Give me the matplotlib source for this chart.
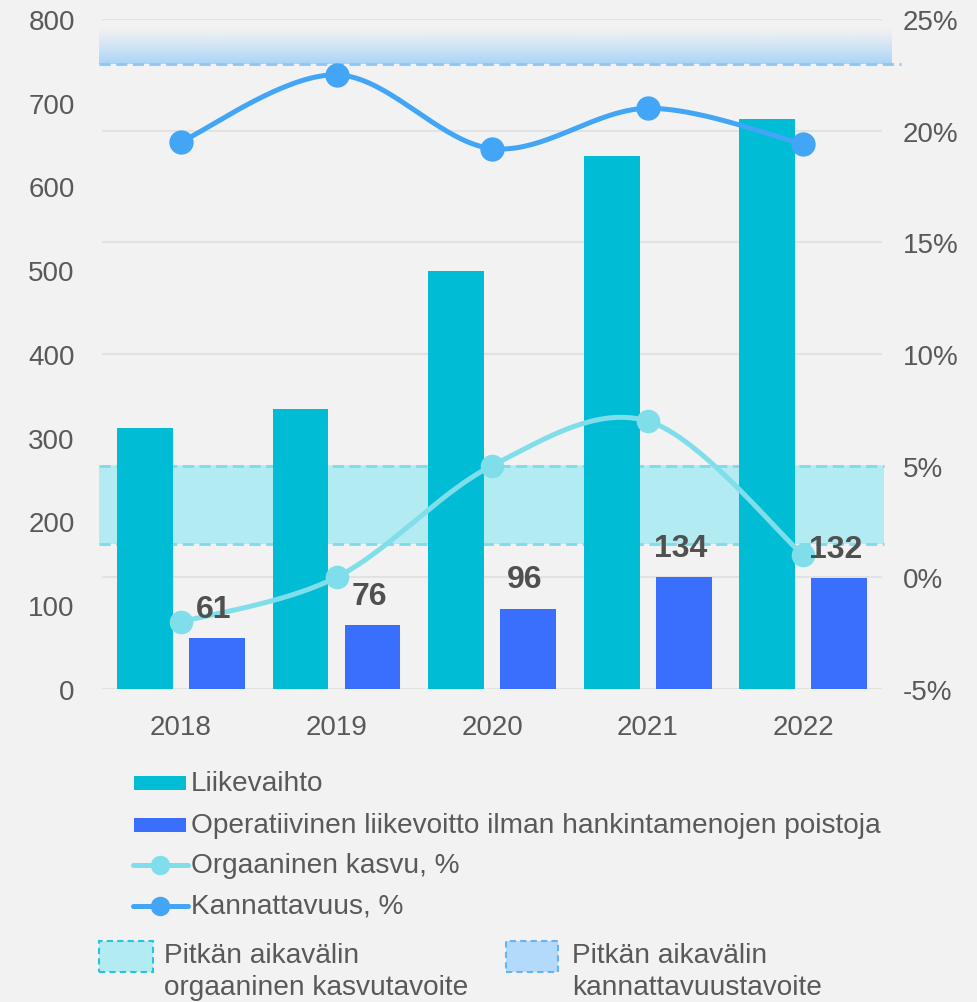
import matplotlib.pyplot as plt
import numpy as np
from matplotlib.patches import Rectangle
from matplotlib.lines import Line2D

plt.rcParams['font.family'] = ['Liberation Sans', 'DejaVu Sans']

years = ['2018', '2019', '2020', '2021', '2022']
liikevaihto = [312, 334, 499, 636, 681]
liikevoitto = [61, 76, 96, 134, 132]
kasvu = [-2.0, 0.0, 5.0, 7.0, 1.0]          # Orgaaninen kasvu, %
kannattavuus = [19.5, 22.5, 19.2, 21.0, 19.4]  # Kannattavuus, %
kasvu_target = [1.5, 5.0]
kann_target = 23.0

left_ticks = list(range(0, 801, 100))
pct_ticks = [-5, 0, 5, 10, 15, 20, 25]

bg = '#f2f2f2'
txt = '#595959'
c_teal = '#00bcd4'
c_blue = '#3a6ffd'
c_kasvu = '#80deea'
c_kann = '#42a5f5'


def to_left(p):
    return (np.asarray(p) + 5) * 800 / 30.0


def to_pct(v):
    return np.asarray(v) * 30 / 800.0 - 5


def smooth(xs, ys, n=40):
    # catmull-rom through the points (like excel smoothed lines)
    xs = np.asarray(xs, float)
    ys = np.asarray(ys, float)
    px = np.concatenate([[xs[0]], xs, [xs[-1]]])
    py = np.concatenate([[ys[0]], ys, [ys[-1]]])
    ox, oy = [], []
    for i in range(1, len(px) - 2):
        t = np.linspace(0, 1, n)
        for arr, out in ((px, ox), (py, oy)):
            p0, p1, p2, p3 = arr[i - 1], arr[i], arr[i + 1], arr[i + 2]
            out.extend(0.5 * ((2 * p1) + (-p0 + p2) * t +
                              (2 * p0 - 5 * p1 + 4 * p2 - p3) * t ** 2 +
                              (-p0 + 3 * p1 - 3 * p2 + p3) * t ** 3))
    return np.array(ox), np.array(oy)


W, H = 977, 1003
fig = plt.figure(figsize=(W / 100, H / 100), dpi=100, facecolor=bg)
ax = fig.add_axes([97 / W, 1 - 690 / H, (883 - 97) / W, (690 - 20) / H])
ax.set_facecolor(bg)

x = np.arange(len(years))
bw = 0.36
off = 0.2315

# grid lines follow the percentage axis
for p in pct_ticks:
    ax.plot([-0.502, 4.502], [to_left(p)] * 2, color='#e2e2e2', lw=1.5, zorder=0)

# growth target band
lo, hi = to_left(kasvu_target[0]), to_left(kasvu_target[1])
ax.add_patch(Rectangle((-0.527, lo), 5.048, hi - lo, facecolor='#b2ebf2',
                       edgecolor='none', zorder=1, clip_on=False))
for v in (lo, hi):
    ax.plot([-0.527, 4.521], [v, v], color='#7fdbe9', lw=2, ls=(0, (4, 2)),
            zorder=1, clip_on=False)

# profitability target band (gradient)
grad = np.zeros((100, 1, 4))
rgb = np.array([0xa9, 0xd4, 0xf8]) / 255.0
grad[:, 0, :3] = rgb
grad[:, 0, 3] = np.linspace(0.0, 1.0, 100) ** 1.2
im = ax.imshow(grad, extent=[-0.527, 4.572, to_left(kann_target), to_left(24.65)],
               origin='upper', aspect='auto', zorder=1)
im.set_clip_on(False)
ax.plot([-0.527, 4.63], [to_left(kann_target)] * 2, color='#8cc6f6', lw=2,
        ls=(0, (4, 2)), zorder=1, clip_on=False)

ax.bar(x - off, liikevaihto, bw, color=c_teal, zorder=2)
ax.bar(x + off, liikevoitto, bw, color=c_blue, zorder=2)

for xi, v in zip(x, liikevoitto):
    ax.annotate(str(v), (xi + off - 0.02, v), xytext=(0, 21), textcoords='offset points',
                ha='center', va='center', fontsize=23, fontweight='bold',
                color='#505050', zorder=5)

sx, sy = smooth(x, kasvu)
ax.plot(sx, to_left(sy), color=c_kasvu, lw=3.6, zorder=3, solid_capstyle='round')
ax.plot(x, to_left(kasvu), 'o', color=c_kasvu, ms=16, zorder=3)
sx, sy = smooth(x, kannattavuus)
ax.plot(sx, to_left(sy), color=c_kann, lw=3.6, zorder=3, solid_capstyle='round')
ax.plot(x, to_left(kannattavuus), 'o', color=c_kann, ms=16.5, zorder=3)

ax.set_xlim(-0.540, 4.514)
ax.set_ylim(0, 800)
ax.set_xticks(x)
ax.set_xticklabels(years)
ax.set_yticks(left_ticks)
ax.tick_params(axis='both', length=0, labelsize=20, colors=txt)
ax.tick_params(axis='x', pad=18)
ax.tick_params(axis='y', pad=16)
for s in ax.spines.values():
    s.set_visible(False)

sec = ax.secondary_yaxis('right', functions=(to_pct, to_left))
sec.set_yticks(pct_ticks)
sec.set_yticklabels([f'{p}%' for p in pct_ticks])
sec.tick_params(length=0, labelsize=20, colors=txt, pad=14)
for s in sec.spines.values():
    s.set_visible(False)


# legend drawn by hand, in pixel coordinates
def fx(px):
    return px / W


def fy(py):
    return 1 - py / H


tf = fig.transFigure
rows = [
    ('bar', c_teal, 'Liikevaihto', 784),
    ('bar', c_blue, 'Operatiivinen liikevoitto ilman hankintamenojen poistoja', 826),
    ('line', c_kasvu, 'Orgaaninen kasvu, %', 866),
    ('line', c_kann, 'Kannattavuus, %', 907),
]
for kind, col, label, yc in rows:
    if kind == 'bar':
        fig.patches.append(Rectangle((fx(134), fy(yc + 7)), fx(186) - fx(134),
                                     fy(yc - 7) - fy(yc + 7), transform=tf,
                                     facecolor=col, edgecolor='none'))
    else:
        fig.add_artist(Line2D([fx(133), fx(188)], [fy(yc), fy(yc)], transform=tf,
                              color=col, lw=3.6, solid_capstyle='round'))
        fig.add_artist(Line2D([fx(160)], [fy(yc)], transform=tf, color=col,
                              marker='o', ms=13))
    fig.text(fx(191), fy(yc), label, fontsize=20.2, color=txt, va='center', ha='left')

targets = [
    (99, 152.6, '#b2ebf2', '#26c6da', 'Pitkän aikavälin\norgaaninen kasvutavoite', 164),
    (506, 558, '#b3d9fb', '#64b5f6', 'Pitkän aikavälin\nkannattavuustavoite', 572),
]
for x0, x1, fc, ec, label, tx in targets:
    fig.patches.append(Rectangle((fx(x0), fy(973)), fx(x1) - fx(x0), fy(942) - fy(973),
                                 transform=tf, facecolor=fc, edgecolor=ec, lw=1.5,
                                 ls=(0, (3, 2))))
    fig.text(fx(tx), fy(972), label, fontsize=20.2, color=txt, va='center', ha='left',
             linespacing=1.3)

fig.savefig('out.png', dpi=100, facecolor=bg)
